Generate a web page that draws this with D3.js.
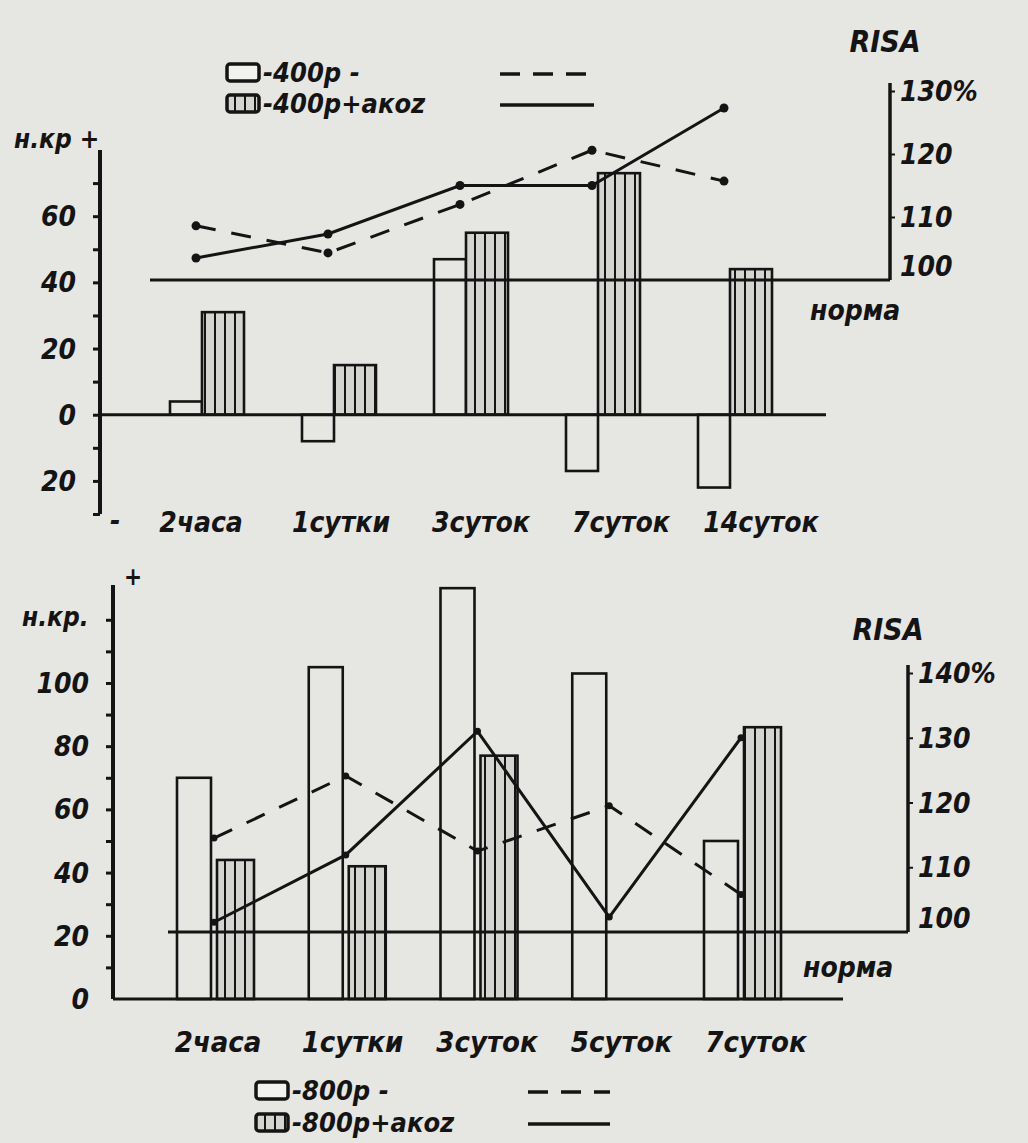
<!DOCTYPE html>
<html><head><meta charset="utf-8">
<script src="https://cdn.jsdelivr.net/npm/d3@7"></script>
<style>
html,body{margin:0;padding:0;background:#e6e6e3;}
svg{display:block;}
text{font-family:'DejaVu Sans Condensed','DejaVu Sans',sans-serif;font-style:italic;font-weight:bold;fill:#141414;}
</style></head>
<body>
<svg id="c" width="1028" height="1143"></svg>
<script>
// ---------- DATA: upper chart (400р) ----------
const topCategories = ["2часа", "1сутки", "3суток", "7суток", "14суток"];
const top400 = [4, -8, 47, -17, -22];            // н.кр, open bars
const top400akoz = [31, 15, 55, 73, 44];          // н.кр, hatched bars
const topRisa400 = [108.6, 104.3, 112, 120.6, 115.7];   // RISA %, dashed
const topRisa400akoz = [103.5, 107.3, 115, 115, 127.3]; // RISA %, solid
const topLeftTicks = [-30, -20, -10, 0, 10, 20, 30, 40, 50, 60, 70];
const topLeftLabels = [-20, 0, 20, 40, 60];
const topRightTicks = [100, 110, 120, 130];
const topLegend = ["-400р -", "-400р+акоz"];

// ---------- DATA: lower chart (800р) ----------
const botCategories = ["2часа", "1сутки", "3суток", "5суток", "7суток"];
const bot800 = [70, 105, 130, 103, 50];
const bot800akoz = [44, 42, 77, null, 86];
const botRisa800 = [114.5, 124.1, 112.5, 119.5, 105.8];
const botRisa800akoz = [101.5, 111.9, 131, 102.3, 130];
const botLeftTicks = [10, 20, 30, 40, 50, 60, 70, 80, 90, 100, 110, 120];
const botLeftLabels = [0, 20, 40, 60, 80, 100];
const botRightTicks = [100, 110, 120, 130, 140];
const botLegend = ["-800р -", "-800р+акоz"];

const svg = d3.select("#c");
const INK = "#141414";

// hatch pattern
const defs = svg.append("defs");
const pat = defs.append("pattern").attr("id", "hatch").attr("patternUnits", "userSpaceOnUse")
  .attr("width", 10).attr("height", 10);
pat.append("rect").attr("width", 10).attr("height", 10).attr("fill", "#d4d4d1");
pat.append("line").attr("x1", 5).attr("x2", 5).attr("y1", 0).attr("y2", 10)
  .attr("stroke", INK).attr("stroke-width", 2);

function panel(cfg) {
  const g = svg.append("g");
  const x = d3.scalePoint().domain(cfg.cats).range(cfg.xRange);
  const xl = d3.scalePoint().domain(cfg.cats).range(cfg.labelRange);
  const yL = d3.scaleLinear().domain(cfg.yLDomain).range(cfg.yLRange);
  const yR = d3.scaleLinear().domain(cfg.yRDomain).range(cfg.yRRange);

  // bars: open
  g.selectAll(".ob").data(cfg.cats.map((c, i) => ({c, v: cfg.open[i]})).filter(d => d.v != null))
    .join("rect")
    .attr("x", d => x(d.c) + cfg.openOff)
    .attr("width", cfg.openW)
    .attr("y", d => Math.min(yL(0), yL(d.v)))
    .attr("height", d => Math.abs(yL(d.v) - yL(0)))
    .attr("fill", "none").attr("stroke", INK).attr("stroke-width", 2.6);
  // bars: hatched
  g.selectAll(".hb").data(cfg.cats.map((c, i) => ({c, v: cfg.hatch[i]})).filter(d => d.v != null))
    .join("rect")
    .attr("x", d => x(d.c) + cfg.hatchOff)
    .attr("width", cfg.hatchW)
    .attr("y", d => Math.min(yL(0), yL(d.v)))
    .attr("height", d => Math.abs(yL(d.v) - yL(0)))
    .attr("fill", "url(#hatch)").attr("stroke", INK).attr("stroke-width", 2.6);

  // baseline (zero) & norm line
  g.append("line").attr("x1", cfg.baseX[0]).attr("x2", cfg.baseX[1])
    .attr("y1", yL(0)).attr("y2", yL(0)).attr("stroke", INK).attr("stroke-width", 3.2);
  g.append("line").attr("x1", cfg.normX[0]).attr("x2", cfg.rightX)
    .attr("y1", yR(100)).attr("y2", yR(100)).attr("stroke", INK).attr("stroke-width", 3.2);

  // left axis
  const la = d3.axisLeft(yL).tickValues(cfg.leftTicks).tickSize(7).tickFormat("");
  const lg = g.append("g").attr("transform", `translate(${cfg.leftX},0)`).call(la);
  lg.select(".domain").remove();
  lg.selectAll(".tick line").attr("stroke", INK).attr("stroke-width", 3);
  g.append("line").attr("x1", cfg.leftX).attr("x2", cfg.leftX)
    .attr("y1", yL(cfg.yLDomain[0])).attr("y2", yL(cfg.yLDomain[1]))
    .attr("stroke", INK).attr("stroke-width", 4);
  g.selectAll(".ll").data(cfg.leftLabels).join("text")
    .attr("x", cfg.leftX - 24).attr("y", d => yL(d)).attr("dy", "0.36em")
    .attr("text-anchor", "end").attr("font-size", 28).text(d => Math.abs(d));

  // right axis
  const ra = d3.axisRight(yR).tickValues(cfg.rightTicks.filter(v => v > 100)).tickSize(5).tickFormat("");
  const rg = g.append("g").attr("transform", `translate(${cfg.rightX},0)`).call(ra);
  rg.select(".domain").remove();
  rg.selectAll(".tick line").attr("stroke", INK).attr("stroke-width", 2);
  g.append("line").attr("x1", cfg.rightX).attr("x2", cfg.rightX)
    .attr("y1", yR(100)).attr("y2", yR(cfg.yRDomain[1]) - 8)
    .attr("stroke", INK).attr("stroke-width", 3.5);
  const maxR = d3.max(cfg.rightTicks);
  g.selectAll(".rl").data(cfg.rightTicks).join("text")
    .attr("x", cfg.rightX + 10).attr("y", d => yR(d) - (d === 100 ? 14 : 0)).attr("dy", "0.36em")
    .attr("font-size", 28).text(d => d === maxR ? d + "%" : d);

  // lines
  const pts = arr => cfg.cats.map((c, i) => ({c, v: arr[i]}));
  const line = d3.line().x(d => x(d.c) + cfg.lineOff).y(d => yR(d.v));
  g.append("path").datum(pts(cfg.risaOpen)).attr("d", line).attr("fill", "none")
    .attr("stroke", INK).attr("stroke-width", 3).attr("stroke-dasharray", "20,16");
  g.append("path").datum(pts(cfg.risaHatch)).attr("d", line).attr("fill", "none")
    .attr("stroke", INK).attr("stroke-width", 3);
  g.selectAll(".m1").data(pts(cfg.risaOpen).concat(pts(cfg.risaHatch))).join("circle")
    .attr("cx", d => x(d.c) + cfg.lineOff).attr("cy", d => yR(d.v)).attr("r", cfg.markR).attr("fill", INK);

  // category labels
  g.selectAll(".xl").data(cfg.cats).join("text")
    .attr("x", d => xl(d)).attr("y", cfg.labelY).attr("text-anchor", "middle")
    .attr("font-size", cfg.labelSize).text(d => d);

  // legend
  const lgd = g.append("g");
  cfg.legend.forEach((t, i) => {
    const yy = cfg.legendY[i];
    lgd.append("rect").attr("x", cfg.legendX).attr("y", yy - 16).attr("width", 32).attr("height", 17).attr("rx", 3)
      .attr("fill", i === 0 ? "#f2f2ef" : "url(#hatch)").attr("stroke", INK).attr("stroke-width", 3.5);
    lgd.append("text").attr("x", cfg.legendX + 36).attr("y", yy + 2).attr("font-size", 27).text(t);
    lgd.append("line").attr("x1", cfg.legendLineX[0]).attr("x2", cfg.legendLineX[1])
      .attr("y1", yy - 6).attr("y2", yy - 6).attr("stroke", INK).attr("stroke-width", 3.5)
      .attr("stroke-dasharray", i === 0 ? "20,13" : null);
  });

  // captions
  g.append("text").attr("x", cfg.risaPos[0]).attr("y", cfg.risaPos[1]).attr("text-anchor", "middle")
    .attr("font-size", 30).text("RISA");
  g.append("text").attr("x", cfg.normaPos[0]).attr("y", cfg.normaPos[1]).attr("font-size", 28).text("норма");
  g.append("text").attr("x", cfg.unitPos[0]).attr("y", cfg.unitPos[1]).attr("font-size", 26).text(cfg.unitText);
  return g;
}

panel({
  cats: topCategories, open: top400, hatch: top400akoz, risaOpen: topRisa400, risaHatch: topRisa400akoz,
  xRange: [202, 730], labelRange: [201, 761], labelY: 532, labelSize: 28,
  yLDomain: [-30, 80], yLRange: [514, 150], yRDomain: [100, 130], yRRange: [280, 91],
  openOff: -32, openW: 32, hatchOff: 0, hatchW: 42, lineOff: -6, markR: 4.5,
  leftX: 100, leftTicks: topLeftTicks, leftLabels: topLeftLabels,
  rightX: 890, rightTicks: topRightTicks,
  baseX: [100, 826], normX: [150],
  legend: topLegend, legendX: 227, legendY: [80, 111], legendLineX: [500, 594],
  risaPos: [885, 52], normaPos: [810, 320], unitPos: [14, 148], unitText: "н.кр +"
});
svg.append("text").attr("x", 110).attr("y", 530).attr("font-size", 28).text("-");

panel({
  cats: botCategories, open: bot800, hatch: bot800akoz, risaOpen: botRisa800, risaHatch: botRisa800akoz,
  xRange: [214, 741], labelRange: [218, 756], labelY: 1052, labelSize: 29,
  yLDomain: [0, 131], yLRange: [999, 585], yRDomain: [100, 140], yRRange: [932, 673],
  openOff: -37, openW: 34, hatchOff: 3, hatchW: 37, lineOff: 0, markR: 3.5,
  leftX: 113, leftTicks: botLeftTicks, leftLabels: botLeftLabels,
  rightX: 908, rightTicks: botRightTicks,
  baseX: [113, 843], normX: [168],
  legend: botLegend, legendX: 256, legendY: [1098, 1130], legendLineX: [528, 610],
  risaPos: [888, 640], normaPos: [803, 977], unitPos: [22, 626], unitText: "н.кр."
});
svg.append("text").attr("x", 124).attr("y", 585).attr("font-size", 24).text("+");
</script>
</body></html>
